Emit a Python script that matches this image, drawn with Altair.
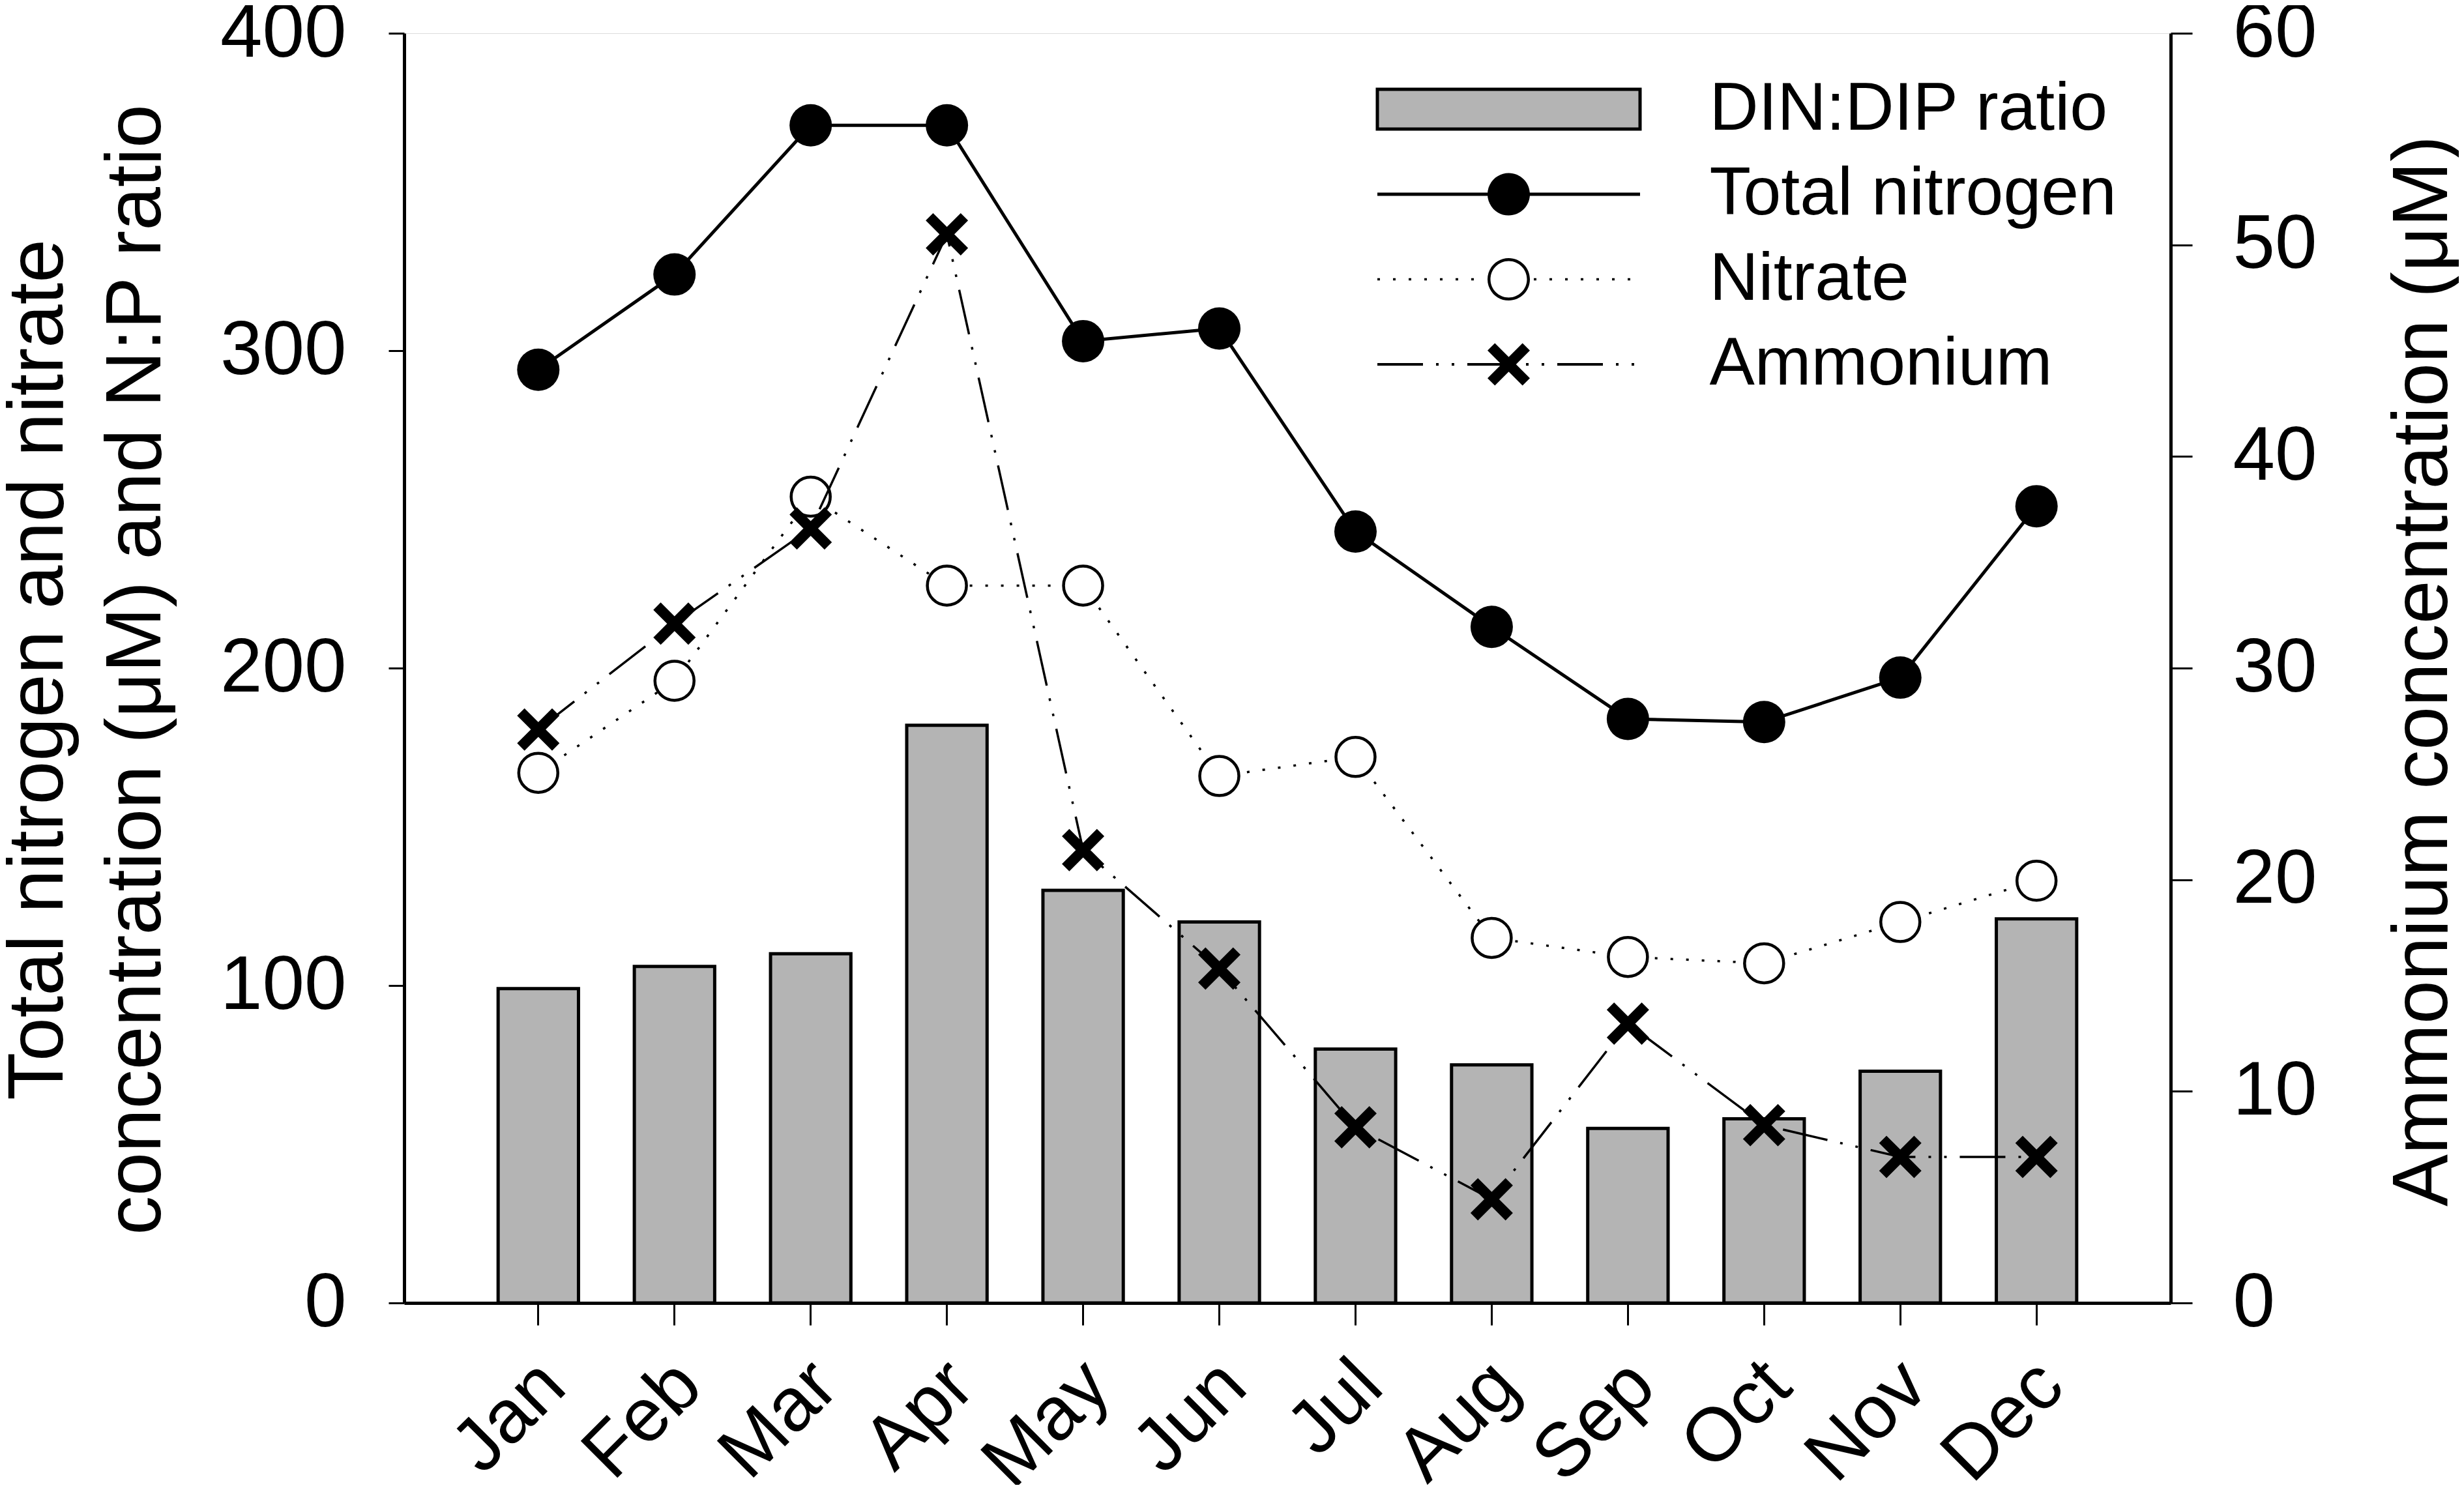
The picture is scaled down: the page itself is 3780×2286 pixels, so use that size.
import math
import altair as alt
import pandas as pd

# ---------------- data ----------------
months = ["Jan", "Feb", "Mar", "Apr", "May", "Jun", "Jul", "Aug", "Sep", "Oct", "Nov", "Dec"]
din_dip_ratio = [99, 106, 110, 182, 130, 120, 80, 75, 55, 58, 73, 121]
total_nitrogen = [294, 324, 371, 371, 303, 307, 243, 213, 184, 183, 197, 251]
nitrate = [167, 196, 254, 226, 226, 166, 172, 115, 109, 107, 120, 133]
ammonium = [27.1, 32.1, 36.6, 50.5, 21.4, 15.8, 8.3, 4.9, 13.2, 8.4, 6.9, 6.9]
series_names = ["DIN:DIP ratio", "Total nitrogen", "Nitrate", "Ammonium"]
left_ticks = [0, 100, 200, 300, 400]
right_ticks = [0, 10, 20, 30, 40, 50, 60]

df = pd.DataFrame({
    "month": months,
    "din": din_dip_ratio,
    "tn": total_nitrogen,
    "no3": nitrate,
    "nh4": ammonium,
})
legend_df = pd.DataFrame({"series": series_names})

FONT = "Liberation Sans"
W, H = 2710, 1948


# ---------------- symbol paths ----------------
def f(v):
    return f"{v:.4f}".rstrip("0").rstrip(".")


def rect(x0, y0, x1, y1):
    return f"M{f(x0)},{f(y0)}H{f(x1)}V{f(y1)}H{f(x0)}Z"


def circle(r, cw=True):
    s = 1 if cw else 0
    return f"M{f(-r)},0A{f(r)},{f(r)} 0 1,{s} {f(r)},0A{f(r)},{f(r)} 0 1,{s} {f(-r)},0Z"


def poly(pts):
    area = sum(pts[i][0] * pts[(i + 1) % len(pts)][1] - pts[(i + 1) % len(pts)][0] * pts[i][1]
               for i in range(len(pts)))
    if area < 0:
        pts = pts[::-1]
    return "M" + "L".join(f"{f(x)},{f(y)}" for x, y in pts) + "Z"


def xshape(R, t):
    h = t / 2 / math.sqrt(2)
    a = R - h
    arm1 = [(-a + h, -a - h), (a + h, a - h), (a - h, a + h), (-a - h, -a + h)]
    arm2 = [(-x, y) for x, y in arm1]
    return poly(arm1) + poly(arm2)


# chart marker for ammonium (unit box = 65 px)
X_MARK = xshape(1.0, 16 / 32.5)

# legend symbols (unit U px)
U = 63.0
HW = 201.5


def px(v):
    return v / U


leg_din = rect(px(-HW), px(-30.5), px(HW), px(30.5))
leg_tn = rect(px(-HW), px(-2.5), px(HW), px(2.5)) + circle(px(32.5))
dots = ""
x = -HW
while x + 4 <= HW:
    if abs(x + 2) > 36:
        dots += rect(px(x), px(-1.75), px(x + 4), px(1.75))
    x += 24
leg_no3 = circle(px(32.5), True) + circle(px(28), False) + dots
dash = ""
pattern = [70, 20, 4, 20, 4, 20]
x = -HW
i = 0
while x < HW:
    seg = pattern[i % len(pattern)]
    if i % 2 == 0:
        x1 = min(x + seg, HW)
        if not (x > -30 and x1 < 30):
            dash += rect(px(x), px(-2), px(x1), px(2))
    x += seg
    i += 1
leg_nh4 = xshape(px(32.5), px(16)) + dash

# ---------------- chart ----------------
xscale = alt.Scale(domain=months, paddingInner=0.41, paddingOuter=0.69)
x_axis = alt.Axis(
    title=None, labelAngle=315, labelAlign="right", labelBaseline="top",
    labelFontSize=116, labelFont=FONT, labelColor="black", labelPadding=34,
    labelOffset=-18,
    tickSize=34, tickWidth=3, tickColor="black", domainColor="black", domainWidth=5,
    grid=False, labelOverlap=False, labelLimit=0,
)
X = alt.X("month:N", sort=months, scale=xscale, axis=x_axis)

yleft_scale = alt.Scale(domain=[0, 400], nice=False)
left_axis = alt.Axis(
    values=left_ticks, tickSize=24, tickWidth=3, tickColor="black",
    domainColor="black", domainWidth=5, labelFontSize=116, labelFont=FONT,
    labelColor="black", labelPadding=65, grid=False, labelLimit=0,
    title=["Total nitrogen and nitrate", "concentration (μM) and N:P ratio"],
    titleFontSize=120, titleFont=FONT, titleFontWeight="normal", titleColor="black",
    titleAngle=270, titleX=-525, titleY=976, titleAlign="center",
    titleBaseline="alphabetic", titleLineHeight=150, titleLimit=0,
)

base = alt.Chart(df)

bars = base.mark_bar(fill="#b4b4b4", stroke="black", strokeWidth=5).encode(
    x=X, y=alt.Y("din:Q", scale=yleft_scale, axis=left_axis)
)
tn_line = base.mark_line(color="black", strokeWidth=5).encode(
    x=X, y=alt.Y("tn:Q", scale=yleft_scale, axis=left_axis)
)
tn_pts = base.mark_point(filled=True, shape="circle", size=4225, color="black", opacity=1).encode(
    x=X, y=alt.Y("tn:Q", scale=yleft_scale, axis=left_axis)
)
no3_line = base.mark_line(color="black", strokeWidth=3.5, strokeDash=[4, 20]).encode(
    x=X, y=alt.Y("no3:Q", scale=yleft_scale, axis=left_axis)
)
no3_pts = base.mark_point(shape="circle", size=3600, fill="white", stroke="black",
                          strokeWidth=4.5, filled=False, opacity=1, fillOpacity=1).encode(
    x=X, y=alt.Y("no3:Q", scale=yleft_scale, axis=left_axis)
)

right_scale = alt.Scale(domain=[0, 60], nice=False)
right_axis = alt.Axis(
    orient="right", values=right_ticks, tickSize=33, tickWidth=3, tickColor="black",
    domainColor="black", domainWidth=5, labelFontSize=116, labelFont=FONT,
    labelColor="black", labelPadding=62, grid=False, labelLimit=0,
    title="Ammonium concentration (μM)", titleFontSize=120, titleFont=FONT,
    titleFontWeight="normal", titleColor="black", titleAngle=270, titleX=423,
    titleY=978, titleAlign="center", titleBaseline="alphabetic", titleLimit=0,
)
nh4_line = base.mark_line(color="black", strokeWidth=3.5, strokeDash=[70, 20, 4, 20, 4, 20]).encode(
    x=X, y=alt.Y("nh4:Q", scale=right_scale, axis=right_axis)
)
nh4_pts = base.mark_point(shape=X_MARK, filled=True, size=4225, color="black", opacity=1).encode(
    x=X, y=alt.Y("nh4:Q", scale=right_scale, axis=right_axis)
)

leg = alt.Legend(
    title=None, orient="none", legendX=1692 - U, legendY=114 - U, direction="vertical",
    symbolSize=(2 * U) ** 2, symbolStrokeWidth=5, labelFontSize=104, labelFont=FONT,
    labelColor="black", labelOffset=HW + 104 - U, rowPadding=12.5, padding=0, labelLimit=0,
)
legend_layer = alt.Chart(legend_df).transform_filter("false").mark_point(filled=True, opacity=1).encode(
    shape=alt.Shape("series:N", scale=alt.Scale(domain=series_names,
                                                range=[leg_din, leg_tn, leg_no3, leg_nh4]), legend=leg),
    fill=alt.Fill("series:N", scale=alt.Scale(domain=series_names,
                                              range=["#b4b4b4", "black", "black", "black"]), legend=leg),
    stroke=alt.Stroke("series:N", scale=alt.Scale(domain=series_names,
                                                  range=["black", "transparent", "transparent", "transparent"]),
                      legend=leg),
)

left = alt.layer(bars, tn_line, no3_line, tn_pts, no3_pts)
right = alt.layer(nh4_line, nh4_pts)

chart = (
    alt.layer(left, right, legend_layer)
    .resolve_scale(y="independent")
    .properties(
        width=W, height=H,
        autosize=alt.AutoSizeParams(type="none"),
        padding={"left": 612, "top": 43, "right": 442, "bottom": 279},
    )
    .configure_view(stroke="black", strokeWidth=5)
    .configure(font=FONT)
)

chart.save("out.html", embed_options={"renderer": "svg", "actions": False})
